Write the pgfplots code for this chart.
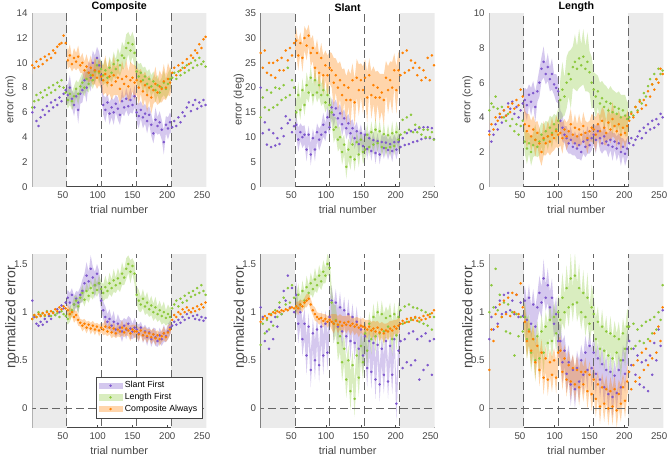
\documentclass[border=0pt]{standalone}
\usepackage{fontspec}
\setmainfont{Liberation Sans}
\usepackage{pgfplots}
\pgfplotsset{compat=1.18}
\usepgfplotslibrary{fillbetween}
\usepackage{pgfplotstable}

\definecolor{cA}{RGB}{126,87,204}
\definecolor{cB}{RGB}{140,200,60}
\definecolor{cC}{RGB}{255,128,0}
\definecolor{bg}{RGB}{235,235,235}
\definecolor{axc}{RGB}{70,70,70}

% columns: a = Slant First, b = Length First, c = Composite Always (mean and error)
\pgfplotstableread{
x a ae b be c ce
6 6.0 0.7 6.4 0.6 9.8 0.6
9 6.4 0.9 6.9 0.8 9.6 0.8
12 5.3 0.6 7.4 0.6 10.1 0.5
15 4.9 0.8 7.0 0.7 9.7 0.7
18 5.6 0.7 7.6 0.6 10.3 0.6
21 6.2 1.0 7.2 0.8 9.9 0.8
24 5.8 0.6 7.8 0.5 10.5 0.5
27 6.5 0.8 7.4 0.7 10.2 0.7
30 6.1 0.7 8.0 0.6 10.7 0.6
33 6.8 0.9 7.6 0.8 10.4 0.8
36 6.4 0.6 8.2 0.6 11.0 0.5
39 7.0 0.8 7.8 0.7 10.8 0.7
42 6.6 0.7 8.4 0.6 11.3 0.6
45 7.2 0.9 8.1 0.8 11.5 0.8
48 6.9 0.6 8.6 0.6 11.6 0.5
51 7.5 0.8 8.0 0.7 12.2 0.7
54 7.8 0.7 7.6 0.6 11.6 0.6
57 7.4 0.8 7.0 0.7 10.2 0.7
60 8.0 1.0 7.5 0.9 10.6 0.9
63 7.1 0.7 6.9 0.7 9.9 0.6
66 6.6 0.9 7.3 0.8 10.4 0.8
69 7.3 0.8 7.9 0.7 10.1 0.7
72 6.2 1.1 7.5 0.9 10.5 0.9
75 7.5 0.8 8.1 0.7 9.8 0.6
78 7.8 1.0 8.4 0.8 10.0 0.8
81 8.6 0.9 8.0 0.7 9.4 0.7
84 8.0 1.2 8.7 0.9 9.7 1.0
87 9.2 0.9 8.3 0.7 9.2 0.8
90 8.8 1.1 9.0 0.8 9.6 1.0
93 10.0 1.0 8.6 0.7 9.0 0.8
96 9.4 1.2 9.3 0.9 9.4 1.1
99 10.4 0.9 9.8 0.8 8.8 0.9
102 9.8 1.1 9.2 0.9 9.3 1.1
105 9.0 1.0 9.5 0.8 8.9 1.0
108 6.6 0.8 9.0 0.8 8.6 1.2
111 6.2 1.0 9.4 1.0 9.1 1.5
114 6.8 0.7 8.8 0.8 8.4 1.1
117 5.9 0.9 9.6 0.9 8.9 1.4
120 6.4 0.8 9.2 0.8 8.2 1.2
123 6.0 1.0 9.9 1.0 9.0 1.6
126 6.7 0.7 9.5 0.8 8.5 1.1
129 6.3 0.9 10.2 1.0 8.8 1.4
132 5.8 0.8 9.8 0.9 7.9 1.2
135 6.9 1.0 10.6 1.1 8.7 1.5
138 6.4 0.7 10.4 0.9 8.3 1.1
141 7.1 0.9 11.2 1.1 8.9 1.4
144 6.5 0.8 11.6 0.9 8.1 1.2
147 7.0 1.0 11.0 1.1 8.6 1.5
150 6.6 0.7 11.5 1.0 8.8 1.1
153 7.3 0.9 10.8 1.1 8.4 1.4
156 6.0 0.8 9.3 0.9 8.6 1.1
159 5.7 1.0 8.9 1.0 8.0 1.4
162 6.2 0.7 9.2 0.8 8.5 1.0
165 5.6 0.9 8.6 1.0 7.7 1.3
168 5.9 0.8 8.9 0.8 8.2 1.1
171 5.3 1.0 8.3 1.0 7.4 1.4
174 5.8 0.7 8.7 0.8 8.0 1.0
177 5.0 0.9 8.1 0.9 7.2 1.3
180 4.3 0.8 8.5 0.8 7.8 1.1
183 5.4 1.0 7.8 1.0 8.3 1.4
186 4.9 0.7 8.2 0.8 7.6 1.0
189 5.2 0.9 7.6 0.9 8.1 1.3
192 4.6 0.8 8.0 0.8 7.9 1.1
195 3.6 1.0 8.4 1.0 8.5 1.4
198 5.0 0.7 7.9 0.8 8.0 1.0
201 4.7 0.9 8.3 0.9 8.7 1.3
204 5.2 0.8 8.7 0.8 8.4 1.1
207 4.8 0.7 8.8 0.8 9.2 0.8
210 5.3 0.9 9.2 1.0 9.6 1.0
213 4.9 0.6 8.7 0.7 9.0 0.7
216 5.6 0.8 9.3 0.9 9.8 0.9
219 5.2 0.7 9.0 0.8 9.4 0.8
222 6.0 0.9 9.6 1.0 10.0 1.0
225 5.7 0.6 9.2 0.7 9.6 0.7
228 6.4 0.8 9.8 0.9 10.3 0.9
231 6.8 0.7 9.4 0.8 9.9 0.8
234 6.1 0.9 10.0 1.0 10.6 1.0
237 6.6 0.6 9.6 0.7 10.4 0.7
240 7.0 0.8 10.2 0.9 11.0 0.9
243 6.3 0.7 9.8 0.8 10.8 0.8
246 6.8 0.9 10.4 1.0 11.5 1.0
249 6.5 0.6 9.9 0.7 11.2 0.7
252 7.0 0.8 10.1 0.9 11.9 0.9
255 6.6 0.7 9.7 0.8 12.1 0.8
}\tA

\pgfplotstableread{
x a ae b be c ce
6 20.0 2.0 14.0 2.0 27.0 2.5
9 10.8 2.4 18.0 2.4 24.0 3.0
12 13.0 1.8 16.0 1.8 27.5 2.2
15 8.5 2.2 19.5 2.2 23.0 2.8
18 11.5 1.9 15.5 2.0 25.0 2.4
21 8.0 2.4 19.0 2.5 22.5 3.0
24 10.8 1.8 16.0 1.8 25.0 2.2
27 8.3 2.2 20.0 2.2 22.0 2.8
30 9.8 1.9 16.5 2.0 25.5 2.4
33 8.6 2.4 19.8 2.5 23.5 3.0
36 11.8 1.8 17.5 1.8 26.0 2.2
39 10.2 2.2 20.5 2.2 23.5 2.8
42 14.2 1.9 18.0 2.0 27.5 2.4
45 12.8 2.4 24.0 2.5 25.5 3.0
48 13.5 1.8 18.5 1.8 28.0 2.2
51 11.0 2.2 21.5 2.2 26.5 2.8
54 12.2 1.9 20.0 2.0 29.0 2.4
57 12.5 2.0 15.0 2.2 29.5 2.5
60 9.5 2.4 18.5 2.6 26.5 3.0
63 11.0 1.8 15.5 2.0 29.0 2.2
66 10.0 2.2 19.5 2.4 26.0 2.8
69 10.5 1.9 16.5 2.2 30.0 2.4
72 7.5 2.4 20.5 2.6 28.5 3.0
75 10.5 1.8 19.0 2.0 30.5 2.2
78 6.5 2.2 22.0 2.4 27.0 2.8
81 9.8 1.9 18.5 2.2 28.0 2.6
84 7.5 2.4 21.5 2.6 24.0 3.6
87 11.0 1.8 19.0 2.0 27.0 2.8
90 9.5 2.2 20.5 2.4 23.0 3.8
93 10.5 1.9 18.5 2.2 26.0 3.0
96 12.5 2.4 19.5 2.6 22.5 4.0
99 11.0 1.8 17.0 2.0 24.5 3.0
102 14.0 2.2 18.5 2.4 22.5 4.0
105 12.0 1.9 16.5 2.2 24.0 3.2
108 16.0 2.0 15.0 2.2 23.5 3.5
111 14.5 2.4 11.5 2.6 21.0 5.0
114 15.8 1.8 12.0 2.0 22.5 3.4
117 13.8 2.2 9.5 2.4 20.0 4.8
120 14.8 1.9 10.0 2.2 21.5 3.8
123 12.6 2.4 7.0 2.6 18.5 5.2
126 13.8 1.8 8.5 2.0 20.5 3.4
129 11.8 2.2 4.0 2.4 17.5 4.8
132 12.8 1.9 7.5 2.2 20.0 3.8
135 10.8 2.4 6.0 2.6 17.5 5.2
138 11.8 1.8 8.5 2.0 21.5 3.4
141 9.8 2.2 5.5 2.4 17.0 4.8
144 11.2 1.9 9.0 2.2 22.0 3.8
147 8.6 2.4 6.5 2.6 19.5 5.2
150 10.8 1.8 9.5 2.0 21.5 3.4
153 8.2 2.2 7.0 2.4 19.5 4.8
156 10.5 1.8 7.5 2.0 22.0 3.8
159 7.6 2.2 10.5 2.4 18.0 5.2
162 9.8 1.6 8.0 1.8 22.5 3.4
165 7.2 2.0 11.0 2.2 18.5 4.8
168 9.4 1.7 8.5 2.0 20.5 3.8
171 6.8 2.2 11.5 2.4 18.0 5.2
174 9.2 1.6 8.8 1.8 20.0 3.4
177 6.5 2.0 11.2 2.2 18.0 4.8
180 9.0 1.7 8.0 2.0 19.0 3.8
183 7.8 2.2 10.6 2.4 17.5 5.2
186 8.9 1.6 7.8 1.8 22.0 3.4
189 7.4 2.0 10.4 2.2 19.5 4.8
192 8.6 1.7 8.0 2.0 21.5 3.8
195 7.2 2.2 10.8 2.4 20.0 5.2
198 9.0 1.6 8.2 1.8 23.5 3.4
201 7.5 2.0 11.0 2.2 19.5 4.8
204 9.0 1.7 9.5 2.0 23.5 3.8
207 8.0 1.8 10.5 2.0 22.5 3.0
210 9.8 2.2 13.5 2.4 27.0 3.6
213 8.4 1.6 11.0 1.8 23.0 2.6
216 10.8 2.0 14.0 2.2 27.5 3.4
219 8.6 1.7 11.5 2.0 23.5 2.8
222 11.2 2.2 14.5 2.4 25.5 3.6
225 9.0 1.6 11.0 1.8 24.0 2.6
228 11.5 2.0 12.5 2.2 25.0 3.4
231 9.2 1.7 11.0 2.0 22.5 2.8
234 11.8 2.2 12.0 2.4 24.0 3.6
237 9.6 1.6 10.5 1.8 21.5 2.6
240 12.0 2.0 11.5 2.2 23.5 3.4
243 9.8 1.7 10.0 2.0 22.0 2.8
246 12.0 2.2 11.5 2.4 26.0 3.6
249 9.8 1.6 10.0 1.8 21.5 2.6
252 11.8 2.0 11.0 2.2 26.5 3.4
255 9.6 1.7 9.5 2.0 24.5 2.8
}\tB

\pgfplotstableread{
x a ae b be c ce
6 3.2 0.6 4.4 0.7 3.0 0.7
9 2.6 0.8 4.8 0.9 3.6 0.9
12 3.0 0.5 4.6 0.6 3.3 0.6
15 3.6 0.7 5.2 0.8 4.0 0.8
18 3.3 0.6 4.5 0.7 3.8 0.7
21 4.0 0.8 4.2 0.9 4.2 0.9
24 3.7 0.5 4.6 0.6 4.0 0.6
27 4.4 0.7 4.0 0.8 4.4 0.8
30 4.1 0.6 3.8 0.7 4.1 0.7
33 4.8 0.8 4.2 0.9 4.6 0.9
36 4.5 0.5 3.5 0.6 4.3 0.6
39 4.9 0.7 3.9 0.8 4.8 0.8
42 4.2 0.6 3.2 0.7 4.5 0.7
45 4.6 0.8 3.6 0.9 5.0 0.9
48 4.0 0.5 3.0 0.6 4.7 0.6
51 4.4 0.7 3.5 0.8 5.6 0.8
54 4.8 0.6 3.8 0.7 5.2 0.7
57 5.0 0.7 2.6 0.7 3.6 0.8
60 4.7 0.9 2.2 0.9 3.2 1.0
63 5.3 0.6 2.5 0.6 3.5 0.7
66 4.9 0.8 2.0 0.8 2.9 0.9
69 5.4 0.7 2.4 0.7 3.3 0.8
72 4.6 0.9 2.7 0.9 2.7 1.0
75 5.5 0.6 2.3 0.6 3.1 0.7
78 6.0 0.8 2.6 0.8 2.5 0.9
81 6.8 0.7 3.0 0.7 2.0 0.8
84 7.2 0.9 2.7 0.9 2.8 1.0
87 6.5 0.6 3.2 0.6 2.5 0.7
90 6.9 0.8 2.9 0.8 2.9 0.9
93 6.2 0.7 3.4 0.7 2.6 0.8
96 6.5 0.9 3.1 0.9 3.0 1.0
99 5.9 0.6 3.6 0.6 2.8 0.7
102 5.7 0.8 3.3 0.8 3.2 0.9
105 5.5 0.7 3.8 0.7 3.0 0.8
108 3.8 0.6 5.0 1.2 3.1 0.7
111 3.4 0.8 5.6 1.6 2.8 0.9
114 3.0 0.5 5.2 1.1 3.3 0.6
117 2.8 0.7 6.0 1.5 2.9 0.8
120 2.5 0.6 6.5 1.3 3.2 0.7
123 2.7 0.8 6.2 1.7 3.6 0.9
126 2.3 0.5 6.9 1.2 3.0 0.6
129 2.5 0.7 7.2 1.6 3.4 0.8
132 2.2 0.6 6.8 1.3 2.9 0.7
135 2.4 0.8 7.4 1.7 3.3 0.9
138 2.0 0.5 7.0 1.2 3.0 0.6
141 2.6 0.7 7.5 1.6 3.5 0.8
144 2.3 0.6 6.8 1.3 3.1 0.7
147 2.7 0.8 7.2 1.7 2.8 0.9
150 2.4 0.5 6.6 1.2 3.2 0.6
153 2.8 0.7 6.0 1.5 3.4 0.8
156 3.0 0.6 5.6 1.0 3.3 0.8
159 2.7 0.8 5.2 1.3 3.0 1.0
162 3.2 0.5 5.5 0.9 3.6 0.7
165 2.8 0.7 4.8 1.2 3.2 0.9
168 2.5 0.6 5.1 1.0 3.8 0.8
171 2.9 0.8 4.6 1.3 3.4 1.0
174 2.6 0.5 4.9 0.9 3.1 0.7
177 2.4 0.7 4.4 1.2 3.7 0.9
180 2.7 0.6 4.8 1.0 3.3 0.8
183 2.3 0.8 4.3 1.3 3.9 1.0
186 2.6 0.5 4.6 0.9 3.5 0.7
189 2.2 0.7 4.2 1.2 3.2 0.9
192 2.5 0.6 4.5 1.0 3.6 0.8
195 2.0 0.8 4.0 1.3 3.0 1.0
198 2.3 0.5 4.4 0.9 3.4 0.7
201 1.9 0.7 4.1 1.2 3.1 0.9
204 2.2 0.6 3.9 1.0 3.5 0.8
207 2.5 0.6 4.0 0.9 3.8 0.8
210 2.8 0.8 4.3 1.1 4.2 1.0
213 2.4 0.5 4.1 0.8 4.0 0.7
216 2.7 0.7 4.6 1.0 4.6 0.9
219 2.9 0.6 4.4 0.9 4.3 0.8
222 3.2 0.8 5.0 1.1 4.9 1.0
225 2.8 0.5 4.8 0.8 4.5 0.7
228 3.4 0.7 5.4 1.0 5.0 0.9
231 3.1 0.6 5.2 0.9 4.7 0.8
234 3.6 0.8 5.8 1.1 5.5 1.0
237 3.3 0.5 6.2 0.8 5.2 0.7
240 3.8 0.7 5.9 1.0 5.9 0.9
243 3.4 0.6 6.5 0.9 5.6 0.8
246 3.9 0.8 6.2 1.1 6.2 1.0
249 3.6 0.5 6.8 0.8 6.0 0.7
252 4.2 0.7 6.5 1.0 6.8 0.9
255 4.0 0.6 6.7 0.9 6.5 0.8
}\tC

\pgfplotstableread{
x a ae b be c ce
6 1.12 0.06 0.93 0.05 0.93 0.05
9 0.95 0.08 0.97 0.07 0.97 0.06
12 0.88 0.05 0.95 0.04 0.95 0.04
15 0.86 0.07 1.00 0.06 0.98 0.06
18 0.90 0.06 0.97 0.05 0.96 0.05
21 0.87 0.08 0.99 0.07 0.99 0.06
24 0.93 0.05 0.96 0.04 0.97 0.04
27 0.90 0.07 1.01 0.06 1.00 0.06
30 0.96 0.06 0.98 0.05 0.98 0.05
33 0.93 0.08 0.96 0.07 1.01 0.06
36 1.00 0.05 1.00 0.04 0.99 0.04
39 0.97 0.07 0.97 0.06 1.03 0.06
42 1.03 0.06 0.99 0.05 1.01 0.05
45 1.00 0.08 0.95 0.07 1.05 0.06
48 1.07 0.05 1.01 0.04 1.03 0.04
51 1.04 0.07 0.98 0.06 1.06 0.06
54 1.10 0.06 0.96 0.05 1.04 0.05
57 1.15 0.08 0.93 0.06 1.02 0.05
60 1.10 0.10 0.98 0.08 0.98 0.06
63 1.18 0.07 1.02 0.06 1.00 0.04
66 1.08 0.09 1.08 0.08 0.95 0.06
69 1.14 0.08 1.12 0.06 0.97 0.05
72 1.10 0.11 1.06 0.08 0.92 0.06
75 1.18 0.08 1.15 0.06 0.89 0.04
78 1.22 0.12 1.20 0.08 0.86 0.06
81 1.30 0.10 1.13 0.07 0.88 0.05
84 1.38 0.14 1.22 0.09 0.84 0.06
87 1.32 0.10 1.17 0.07 0.87 0.04
90 1.45 0.14 1.25 0.09 0.83 0.06
93 1.36 0.11 1.20 0.07 0.86 0.05
96 1.28 0.14 1.28 0.09 0.82 0.06
99 1.40 0.10 1.23 0.07 0.85 0.04
102 1.30 0.13 1.30 0.09 0.81 0.06
105 1.12 0.10 1.24 0.08 0.84 0.05
108 1.02 0.09 1.20 0.09 0.82 0.06
111 0.95 0.11 1.26 0.12 0.85 0.08
114 0.90 0.08 1.22 0.08 0.80 0.05
117 0.93 0.10 1.30 0.11 0.84 0.07
120 0.86 0.08 1.25 0.09 0.79 0.06
123 0.90 0.11 1.33 0.12 0.83 0.08
126 0.82 0.08 1.28 0.08 0.78 0.05
129 0.88 0.10 1.35 0.11 0.82 0.07
132 0.84 0.08 1.30 0.09 0.80 0.06
135 0.80 0.11 1.40 0.12 0.84 0.08
138 0.86 0.08 1.36 0.08 0.79 0.05
141 0.82 0.10 1.45 0.11 0.83 0.07
144 0.88 0.08 1.50 0.09 0.81 0.06
147 0.83 0.11 1.42 0.12 0.78 0.08
150 0.80 0.08 1.48 0.08 0.82 0.05
153 0.84 0.10 1.40 0.11 0.80 0.07
156 0.82 0.07 1.18 0.09 0.80 0.06
159 0.78 0.09 1.12 0.11 0.77 0.07
162 0.84 0.06 1.08 0.08 0.81 0.05
165 0.76 0.08 1.14 0.10 0.76 0.07
168 0.80 0.07 1.06 0.09 0.79 0.06
171 0.74 0.09 1.10 0.11 0.75 0.07
174 0.79 0.06 1.03 0.08 0.78 0.05
177 0.72 0.08 1.07 0.10 0.74 0.07
180 0.77 0.07 1.00 0.09 0.77 0.06
183 0.74 0.09 1.05 0.11 0.73 0.07
186 0.70 0.06 0.98 0.08 0.76 0.05
189 0.76 0.08 1.02 0.10 0.72 0.07
192 0.72 0.07 0.96 0.09 0.75 0.06
195 0.78 0.09 1.00 0.11 0.78 0.07
198 0.75 0.06 0.94 0.08 0.74 0.05
201 0.80 0.08 0.98 0.10 0.79 0.07
204 0.84 0.07 0.95 0.09 0.82 0.06
207 0.86 0.07 1.04 0.08 0.92 0.06
210 0.90 0.09 1.08 0.10 0.97 0.08
213 0.87 0.06 1.12 0.07 0.95 0.05
216 0.92 0.08 1.06 0.09 1.00 0.07
219 0.89 0.07 1.14 0.08 0.98 0.06
222 0.95 0.09 1.10 0.10 1.03 0.08
225 0.92 0.06 1.17 0.07 1.00 0.05
228 0.98 0.08 1.12 0.09 1.05 0.07
231 0.94 0.07 1.20 0.08 1.02 0.06
234 1.00 0.09 1.16 0.10 1.00 0.08
237 0.96 0.06 1.22 0.07 1.04 0.05
240 0.93 0.08 1.18 0.09 1.01 0.07
243 0.97 0.07 1.25 0.08 1.06 0.06
246 0.92 0.09 1.20 0.10 1.03 0.08
249 0.95 0.06 1.28 0.07 1.08 0.05
252 0.91 0.08 1.22 0.09 1.05 0.07
255 0.94 0.07 1.18 0.08 1.10 0.06
}\tD

\pgfplotstableread{
x a ae b be c ce
6 1.05 0.14 0.66 0.09 0.90 0.05
9 0.95 0.18 0.88 0.12 0.93 0.06
12 0.70 0.12 0.78 0.08 0.96 0.04
15 0.80 0.16 0.92 0.11 0.94 0.05
18 0.62 0.14 0.82 0.09 0.98 0.04
21 0.90 0.18 0.98 0.12 0.97 0.06
24 0.72 0.12 0.86 0.08 1.00 0.04
27 0.95 0.16 1.02 0.11 0.99 0.05
30 0.85 0.14 0.95 0.09 1.01 0.04
33 1.05 0.18 1.10 0.12 1.00 0.06
36 0.98 0.12 0.98 0.08 1.02 0.04
39 1.22 0.16 1.15 0.11 1.01 0.05
42 1.12 0.14 1.08 0.09 1.03 0.04
45 1.38 0.18 1.25 0.12 1.02 0.06
48 1.05 0.12 1.10 0.08 1.04 0.04
51 1.25 0.16 1.28 0.11 1.05 0.05
54 1.00 0.14 1.15 0.09 1.04 0.04
57 1.18 0.16 1.06 0.09 1.06 0.05
60 0.88 0.20 1.18 0.12 1.04 0.07
63 1.00 0.14 1.08 0.08 1.08 0.05
66 0.72 0.18 1.22 0.11 1.06 0.06
69 0.88 0.16 1.12 0.09 1.10 0.05
72 0.55 0.20 1.26 0.12 1.12 0.07
75 0.85 0.14 1.20 0.08 1.14 0.05
78 0.40 0.18 1.30 0.11 1.08 0.06
81 0.78 0.16 1.24 0.09 1.02 0.05
84 0.50 0.20 1.34 0.12 0.98 0.07
87 0.82 0.14 1.28 0.08 0.95 0.05
90 0.45 0.18 1.38 0.11 0.93 0.06
93 0.85 0.16 1.32 0.09 0.94 0.05
96 0.55 0.20 1.42 0.12 0.91 0.07
99 0.88 0.14 1.38 0.08 0.93 0.05
102 0.58 0.18 1.50 0.11 0.90 0.06
105 0.95 0.16 1.46 0.09 0.92 0.05
108 1.12 0.16 1.10 0.16 0.90 0.08
111 0.88 0.20 0.88 0.20 0.88 0.10
114 1.10 0.14 0.92 0.15 0.91 0.07
117 0.85 0.18 0.68 0.19 0.87 0.09
120 1.05 0.16 0.75 0.16 0.90 0.08
123 0.80 0.20 0.48 0.20 0.86 0.10
126 1.02 0.14 0.62 0.15 0.89 0.07
129 0.75 0.18 0.30 0.19 0.87 0.09
132 0.98 0.16 0.50 0.16 0.90 0.08
135 0.70 0.20 0.18 0.20 0.86 0.10
138 0.95 0.14 0.45 0.15 0.88 0.07
141 0.68 0.18 0.10 0.19 0.85 0.09
144 0.90 0.16 0.55 0.16 0.87 0.08
147 0.62 0.20 0.32 0.20 0.84 0.10
150 0.82 0.14 0.65 0.15 0.86 0.07
153 0.55 0.18 0.48 0.19 0.85 0.09
156 0.75 0.16 0.78 0.14 0.84 0.08
159 0.42 0.20 0.60 0.18 0.82 0.10
162 0.70 0.14 0.88 0.12 0.85 0.07
165 0.38 0.18 0.72 0.16 0.81 0.09
168 0.68 0.16 0.95 0.14 0.83 0.08
171 0.30 0.20 0.75 0.18 0.80 0.10
174 0.66 0.14 1.00 0.12 0.84 0.07
177 0.25 0.18 0.78 0.16 0.79 0.09
180 0.62 0.16 0.98 0.14 0.82 0.08
183 0.35 0.20 0.80 0.18 0.78 0.10
186 0.70 0.14 0.94 0.12 0.81 0.07
189 0.28 0.18 0.85 0.16 0.80 0.09
192 0.65 0.16 0.96 0.14 0.83 0.08
195 0.35 0.20 0.72 0.18 0.81 0.10
198 0.72 0.14 0.98 0.12 0.85 0.07
201 0.05 0.18 0.76 0.16 0.83 0.09
204 0.60 0.16 0.95 0.14 0.86 0.08
207 0.70 0.16 1.02 0.14 0.88 0.08
210 0.42 0.20 0.88 0.18 0.91 0.10
213 0.72 0.14 1.06 0.12 0.89 0.07
216 0.48 0.18 0.90 0.16 0.93 0.09
219 0.78 0.16 1.08 0.14 0.90 0.08
222 0.45 0.20 0.92 0.18 0.94 0.10
225 0.80 0.14 1.05 0.12 0.92 0.07
228 0.50 0.18 0.94 0.16 0.95 0.09
231 0.72 0.16 1.04 0.14 0.91 0.08
234 0.30 0.20 0.90 0.18 0.94 0.10
237 0.75 0.14 1.02 0.12 0.92 0.07
240 0.40 0.18 0.88 0.16 0.96 0.09
243 0.78 0.16 1.00 0.14 0.93 0.08
246 0.45 0.20 0.86 0.18 0.97 0.10
249 0.70 0.14 0.98 0.12 0.95 0.07
252 0.35 0.18 0.82 0.16 0.99 0.09
255 0.72 0.16 0.95 0.14 1.02 0.08
}\tE

\pgfplotstableread{
x a ae b be c ce
6 0.72 0.16 1.00 0.18 0.40 0.12
9 0.95 0.20 1.28 0.22 0.82 0.16
12 0.82 0.14 1.05 0.16 0.70 0.11
15 1.05 0.18 1.45 0.20 0.98 0.15
18 0.88 0.16 1.02 0.18 0.85 0.12
21 1.12 0.20 1.18 0.22 1.08 0.16
24 0.98 0.14 0.95 0.16 0.95 0.11
27 1.18 0.18 1.10 0.20 1.12 0.15
30 1.00 0.16 0.80 0.18 0.98 0.12
33 1.20 0.20 1.08 0.22 1.15 0.16
36 1.02 0.14 0.78 0.16 0.96 0.11
39 1.12 0.18 1.00 0.20 1.20 0.15
42 0.98 0.16 0.55 0.18 1.00 0.12
45 1.18 0.20 0.98 0.22 1.18 0.16
48 0.95 0.14 0.75 0.16 0.98 0.11
51 1.10 0.18 0.95 0.20 1.30 0.15
54 0.96 0.16 0.80 0.18 1.05 0.12
57 1.12 0.16 0.95 0.18 0.90 0.14
60 0.92 0.20 0.72 0.22 0.70 0.18
63 1.15 0.14 0.82 0.16 0.80 0.13
66 0.88 0.18 0.58 0.20 0.60 0.17
69 1.08 0.16 0.72 0.18 0.72 0.14
72 0.85 0.20 0.50 0.22 0.48 0.18
75 1.05 0.14 0.75 0.16 0.65 0.13
78 1.20 0.18 0.52 0.20 0.40 0.17
81 1.10 0.16 0.80 0.18 0.58 0.14
84 1.35 0.20 0.58 0.22 0.32 0.18
87 1.15 0.14 0.85 0.16 0.52 0.13
90 1.28 0.18 0.68 0.20 0.30 0.17
93 1.05 0.16 0.92 0.18 0.48 0.14
96 1.15 0.20 0.70 0.22 0.35 0.18
99 0.88 0.14 0.95 0.16 0.50 0.13
102 0.98 0.18 0.78 0.20 0.32 0.17
105 0.70 0.16 1.00 0.18 0.58 0.14
108 0.70 0.18 0.92 0.20 0.60 0.15
111 0.48 0.22 1.15 0.26 0.38 0.19
114 0.60 0.16 1.00 0.18 0.52 0.14
117 0.36 0.20 1.25 0.24 0.30 0.18
120 0.48 0.18 1.05 0.20 0.45 0.15
123 0.25 0.22 1.35 0.26 0.28 0.19
126 0.40 0.16 1.08 0.18 0.42 0.14
129 0.20 0.20 1.38 0.24 0.25 0.18
132 0.42 0.18 1.10 0.20 0.40 0.15
135 0.28 0.22 1.25 0.26 0.22 0.19
138 0.50 0.16 1.00 0.18 0.38 0.14
141 0.35 0.20 1.20 0.24 0.25 0.18
144 0.58 0.18 0.95 0.20 0.38 0.15
147 0.40 0.22 1.15 0.26 0.18 0.19
150 0.65 0.16 0.88 0.18 0.35 0.14
153 0.42 0.20 1.05 0.24 0.15 0.18
156 0.58 0.18 0.98 0.18 0.30 0.15
159 0.36 0.22 0.72 0.22 0.10 0.19
162 0.52 0.16 0.90 0.16 0.25 0.14
165 0.30 0.20 0.62 0.20 0.02 0.18
168 0.46 0.18 0.85 0.18 0.22 0.15
171 0.22 0.22 0.60 0.22 0.05 0.19
174 0.40 0.16 0.80 0.16 0.20 0.14
177 0.15 0.20 0.55 0.20 0.00 0.18
180 0.38 0.18 0.78 0.18 0.18 0.15
183 0.12 0.22 0.52 0.22 0.02 0.19
186 0.34 0.16 0.75 0.16 0.20 0.14
189 0.16 0.20 0.58 0.20 -0.02 0.18
192 0.40 0.18 0.72 0.18 0.15 0.15
195 0.22 0.22 0.50 0.22 0.05 0.19
198 0.50 0.16 0.78 0.16 0.22 0.14
201 0.36 0.20 0.62 0.20 0.08 0.18
204 0.62 0.18 0.85 0.18 0.28 0.15
207 0.70 0.18 0.85 0.18 0.38 0.14
210 0.45 0.22 0.62 0.22 0.20 0.18
213 0.62 0.16 0.88 0.16 0.45 0.13
216 0.35 0.20 0.65 0.20 0.28 0.17
219 0.55 0.18 0.82 0.18 0.50 0.14
222 0.25 0.22 0.70 0.22 0.32 0.18
225 0.48 0.16 0.86 0.16 0.58 0.13
228 0.22 0.20 0.68 0.20 0.40 0.17
231 0.50 0.18 0.90 0.18 0.62 0.14
234 0.18 0.22 0.72 0.22 0.45 0.18
237 0.55 0.16 0.92 0.16 0.70 0.13
240 0.35 0.20 0.78 0.20 0.52 0.17
243 0.68 0.18 0.95 0.18 0.78 0.14
246 0.50 0.22 0.82 0.22 0.58 0.18
249 0.82 0.16 1.00 0.16 0.85 0.13
252 0.65 0.20 0.92 0.20 0.70 0.17
255 1.02 0.18 1.28 0.18 1.05 0.14
}\tF

\newcommand{\series}[5]{%
  \addplot[name path=up#5#2, draw=none, forget plot] table[x=x, y expr=\thisrow{#2}+\thisrow{#3}] {#1};
  \addplot[name path=lo#5#2, draw=none, forget plot] table[x=x, y expr=\thisrow{#2}-\thisrow{#3}] {#1};
  \addplot[fill=#4, fill opacity=0.33, draw=none, forget plot] fill between[of=up#5#2 and lo#5#2];
  \addplot[only marks, mark=*, mark size=0.75pt, color=#4, forget plot] table[x=x, y=#2] {#1};
}
\newcommand{\bgblocks}{%
  \fill[bg] (axis cs:0,-100) rectangle (axis cs:55.5,100);
  \fill[bg] (axis cs:205.5,-100) rectangle (axis cs:300,100);
}
\newcommand{\vlines}{%
  \draw[dl] (axis cs:55.5,-100) -- (axis cs:55.5,100);
  \draw[dl] (axis cs:105.5,-100) -- (axis cs:105.5,100);
  \draw[dl] (axis cs:155.5,-100) -- (axis cs:155.5,100);
  \draw[dl] (axis cs:205.5,-100) -- (axis cs:205.5,100);
}
\tikzset{dl/.style={draw=black!60, line width=0.7pt, dash pattern=on 6pt off 3pt}}

\pgfplotsset{
  panel/.style={
    scale only axis, width=130.5pt, height=130pt,
    xmin=6, xmax=256,
    xtick={50,100,150,200,250},
    axis x line*=bottom, axis y line*=left,
    axis line style={-, axc, line width=0.5pt},
    tick style={axc, line width=0.5pt},
    tick align=inside, major tick length=2pt,
    ticklabel style={font=\fontsize{7.3}{9}\selectfont, text=axc},
    label style={font=\fontsize{8.2}{10}\selectfont, text=axc},
    ylabel style={yshift=-6pt},
    xlabel style={yshift=1.5pt},
    title style={font=\fontsize{8}{10}\selectfont\bfseries, yshift=-8pt},
    xlabel={trial number},
    /pgf/number format/assume math mode=true,
    clip=true,
    anchor=south west,
  },
  normpanel/.style={
    ymin=-0.2, ymax=1.6, ytick={0,0.5,1,1.5},
    ylabel={normalized error},
    ylabel style={font=\fontsize{10.5}{12}\selectfont, yshift=-2pt, xshift=18pt},
  },
}

\begin{document}
\begin{tikzpicture}
% ---- top row ----
\begin{axis}[panel, at={(24.2pt,203.5pt)}, ymin=0, ymax=14, ytick={0,2,...,14},
  ylabel={error (cm)}, title={Composite}]
  \bgblocks
  \series{\tA}{a}{ae}{cA}{p}
  \series{\tA}{b}{be}{cB}{p}
  \series{\tA}{c}{ce}{cC}{p}
  \vlines
\end{axis}
\begin{axis}[panel, at={(195.5pt,203.5pt)}, ymin=0, ymax=35, ytick={0,5,...,35},
  ylabel={error (deg)}, title={Slant}]
  \bgblocks
  \series{\tB}{a}{ae}{cA}{q}
  \series{\tB}{b}{be}{cB}{q}
  \series{\tB}{c}{ce}{cC}{q}
  \vlines
\end{axis}
\begin{axis}[panel, at={(367pt,203.5pt)}, ymin=0, ymax=10, ytick={0,2,...,10},
  ylabel={error (cm)}, title={Length}]
  \bgblocks
  \series{\tC}{a}{ae}{cA}{r}
  \series{\tC}{b}{be}{cB}{r}
  \series{\tC}{c}{ce}{cC}{r}
  \vlines
\end{axis}
% ---- bottom row ----
\begin{axis}[panel, normpanel, at={(24.2pt,22.7pt)},
  legend cell align=left,
  legend style={at={(0.98,0.055)}, anchor=south east, draw=axc, fill=white,
    font=\fontsize{6.6}{8}\selectfont, inner xsep=2pt, inner ysep=1.5pt, row sep=-1.5pt}]
  \bgblocks
  \series{\tD}{a}{ae}{cA}{s}
  \series{\tD}{b}{be}{cB}{s}
  \series{\tD}{c}{ce}{cC}{s}
  \vlines
  \draw[dl] (axis cs:0,0) -- (axis cs:300,0);
  \addlegendimage{legend image code/.code={\fill[cA!33] (0pt,-2pt) rectangle (17pt,2pt); \fill[cA] (8.5pt,0pt) circle (0.7pt);}}
  \addlegendentry{Slant First}
  \addlegendimage{legend image code/.code={\fill[cB!33] (0pt,-2pt) rectangle (17pt,2pt); \fill[cB] (8.5pt,0pt) circle (0.7pt);}}
  \addlegendentry{Length First}
  \addlegendimage{legend image code/.code={\fill[cC!33] (0pt,-2pt) rectangle (17pt,2pt); \fill[cC] (8.5pt,0pt) circle (0.7pt);}}
  \addlegendentry{Composite Always}
\end{axis}
\begin{axis}[panel, normpanel, at={(195.5pt,22.7pt)}]
  \bgblocks
  \series{\tE}{a}{ae}{cA}{t}
  \series{\tE}{b}{be}{cB}{t}
  \series{\tE}{c}{ce}{cC}{t}
  \vlines
  \draw[dl] (axis cs:0,0) -- (axis cs:300,0);
\end{axis}
\begin{axis}[panel, normpanel, at={(367pt,22.7pt)}]
  \bgblocks
  \series{\tF}{a}{ae}{cA}{u}
  \series{\tF}{b}{be}{cB}{u}
  \series{\tF}{c}{ce}{cC}{u}
  \vlines
  \draw[dl] (axis cs:0,0) -- (axis cs:300,0);
\end{axis}
\pgfresetboundingbox
\path[use as bounding box] (0,0) rectangle (501pt,343.5pt);
\end{tikzpicture}
\end{document}
